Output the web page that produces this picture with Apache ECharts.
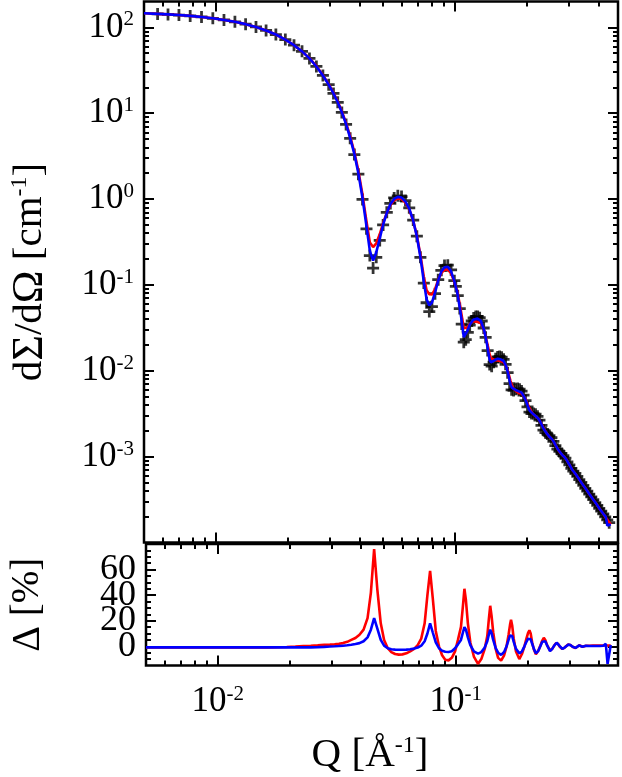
<!DOCTYPE html>
<html>
<head>
<meta charset="utf-8">
<script src="https://cdn.jsdelivr.net/npm/echarts@6/dist/echarts.min.js"></script>
<style>
  html, body { margin: 0; padding: 0; background: #fff; }
  #sans_charts { width: 622px; height: 777px; }
</style>
</head>
<body>
<div id="sans_charts"></div>
<script>
  // Q [1/A] of the two model curves and of the deviations
  let q = [
    0.0050, 0.0057, 0.0063, 0.0070, 0.0078, 0.0087, 0.0097, 0.0108, 0.0120, 0.0133,
    0.0147, 0.0162, 0.0178, 0.0195, 0.0212, 0.0229, 0.0246, 0.0263, 0.0280, 0.0296,
    0.0310, 0.0323, 0.0336, 0.0350, 0.0364, 0.0379, 0.0394, 0.0410, 0.0426, 0.0440,
    0.0454, 0.0468, 0.0484, 0.0500, 0.0518, 0.0536, 0.0556, 0.0576, 0.0597, 0.0620,
    0.0643, 0.0668, 0.0692, 0.0716, 0.0740, 0.0760, 0.0780, 0.0800, 0.0824, 0.0850,
    0.0876, 0.0903, 0.0932, 0.0962, 0.0993,
    0.1021, 0.1051, 0.1072, 0.1087, 0.1103, 0.1124, 0.1151, 0.1191, 0.1240, 0.1280,
    0.1323, 0.1356, 0.1378, 0.1395, 0.1413, 0.1436, 0.1471, 0.1506, 0.1550, 0.1596,
    0.1634, 0.1666, 0.1690, 0.1706, 0.1726, 0.1751, 0.1790, 0.1848, 0.1896, 0.1942,
    0.1980, 0.2012, 0.2038, 0.2063, 0.2093, 0.2128, 0.2169, 0.2221, 0.2265, 0.2308,
    0.2342, 0.2376, 0.2422, 0.2488, 0.2541, 0.2590, 0.2628, 0.2653, 0.2686, 0.2738,
    0.2802, 0.2865, 0.2920, 0.2963, 0.2991, 0.3029, 0.3093, 0.3184, 0.3299, 0.3405,
    0.3521, 0.3641, 0.3766, 0.3894, 0.4027, 0.4165, 0.4266, 0.4340, 0.4475
  ]
  // red model
  let fitRed = [
    146, 143.5, 141.5, 139, 136, 132, 127.5, 122, 116, 109,
    101, 92, 82.5, 72, 62, 52.5, 43.7, 35.3, 27.8, 21.8,
    17.26, 13.67, 10.46, 7.66, 5.36, 3.51, 2.13, 1.12, 0.549, 0.312,
    0.276, 0.305, 0.389, 0.525, 0.690, 0.850, 0.968, 1.019, 1.003, 0.907,
    0.758, 0.559, 0.374, 0.223, 0.124, 0.0868, 0.0779, 0.0773, 0.0885, 0.115,
    0.138, 0.150, 0.151, 0.137, 0.108,
    0.084, 0.0552, 0.0396, 0.0312, 0.0299, 0.0319, 0.0350, 0.0377, 0.0371, 0.0360,
    0.0294, 0.0221, 0.0181, 0.0155, 0.0140, 0.0133, 0.0133, 0.0132, 0.0130, 0.0126,
    0.0113, 0.0097, 0.00831, 0.00760, 0.00684, 0.00625, 0.00586, 0.00549, 0.00545, 0.0050,
    0.00456, 0.00409, 0.00377, 0.00352, 0.00328, 0.00309, 0.00293, 0.00280, 0.00259, 0.00234,
    0.00217, 0.00202, 0.00185, 0.00169, 0.00160, 0.00148, 0.00137, 0.00131, 0.00123, 0.00113,
    0.00105, 0.00099, 0.000925, 0.000862, 0.000824, 0.000778, 0.000698, 0.000632, 0.000549, 0.000479,
    0.000422, 0.000368, 0.000322, 0.000282, 0.000246, 0.000216, 0.000196, 0.000183, 0.000162
  ]
  // blue model
  let fitBlue = [
    146, 143.5, 141.5, 139, 136, 132, 127.5, 122, 116, 109,
    101, 92, 82.5, 72, 62, 52.5, 43.5, 35, 27.5, 21.5,
    17.0, 13.43, 10.25, 7.46, 5.16, 3.36, 2.00, 1.03, 0.482, 0.249,
    0.192, 0.239, 0.347, 0.503, 0.690, 0.870, 1.003, 1.061, 1.041, 0.935,
    0.772, 0.560, 0.366, 0.211, 0.109, 0.0682, 0.0578, 0.0622, 0.0814, 0.113,
    0.143, 0.161, 0.163, 0.144, 0.110,
    0.0812, 0.0504, 0.0333, 0.0247, 0.0249, 0.0289, 0.0343, 0.0394, 0.0405, 0.0382,
    0.0297, 0.0213, 0.0162, 0.0133, 0.0125, 0.0126, 0.0134, 0.0138, 0.0136, 0.0130,
    0.0113, 0.00935, 0.00770, 0.00690, 0.00637, 0.00611, 0.00598, 0.00576, 0.00557, 0.0050,
    0.00445, 0.00392, 0.00357, 0.00338, 0.00324, 0.00311, 0.00295, 0.00280, 0.00258, 0.00232,
    0.00213, 0.00200, 0.00185, 0.00169, 0.00160, 0.00148, 0.00137, 0.00131, 0.00123, 0.00114,
    0.00105, 0.00099, 0.000925, 0.000861, 0.000823, 0.000778, 0.000698, 0.000632, 0.000549, 0.000479,
    0.000422, 0.000368, 0.000322, 0.000282, 0.000246, 0.000216, 0.000199, 0.000157, 0.000163
  ]
  // deviation [%], lower panel
  let devRed = [
    -0.8, -0.8, -0.8, -0.8, -0.8, -0.8, -0.8, -0.8, -0.8, -0.8,
    -0.8, -0.8, -0.7, -0.5, -0.2, 0.2, 0.5, 0.8, 1.1, 1.3,
    1.5, 2, 2.5, 3.5, 5, 6.5, 9, 13, 22, 42,
    76, 45, 18, 5, -1.5, -4.5, -6, -6.5, -6.3, -5.5,
    -4, -2, 1, 6, 18, 40, 59, 38, 12, 0,
    -7, -10.5, -11, -9, -4,
    5, 15, 32, 45, 36, 18, 3, -8, -13.7, -10,
    -2, 8, 22, 31.7, 24, 11, -2, -9, -11.2, -7,
    0, 9, 17, 20.7, 16, 6, -4, -10, -6, 0,
    6, 10.5, 12.5, 10, 3, -2.5, -6.2, -3.5, 0.5, 4.5,
    6.7, 5, 0.5, -3.2, -2, 0.5, 2.3, 3, 2, -0.5,
    -2, -1, 0.5, 1.4, 1.7, 1, -0.3, -1.3, 0.8, -0.3,
    0.5, 0.5, 0.6, 0.6, 0.6, 0.6, 0.6, 0.6, 0.6
  ]
  let devBlue = [
    -0.8, -0.8, -0.8, -0.8, -0.8, -0.8, -0.8, -0.8, -0.8, -0.8,
    -0.8, -0.8, -0.8, -0.8, -0.8, -0.8, -0.8, -0.6, -0.4, -0.2,
    0, 0.2, 0.5, 0.8, 1.2, 1.8, 2.5, 4, 7, 13,
    22, 14, 5, 0.5, -1.5, -2.3, -2.6, -2.7, -2.7, -2.6,
    -2.3, -1.8, -1, 0.5, 4, 10, 18, 11, 3, -1.5,
    -3.5, -4.3, -4.4, -3.8, -1.5,
    1.5, 5, 11, 15, 13, 7, 1, -4, -5.7, -4.5,
    -1, 4, 9.5, 13, 10.5, 5, -1.5, -5, -6.7, -4.5,
    0, 5, 8.5, 9.5, 8, 3.5, -2, -5.5, -4, 0,
    3.5, 6, 6.7, 5.5, 2, -2, -5.5, -3.5, 0, 3.5,
    5, 4, 0.5, -3.7, -2, 0.5, 2, 2.8, 2, 0,
    -2, -1, 0.5, 1.3, 1.6, 1, -0.3, -1.2, 0.7, -0.3,
    0.4, 0.2, 0.3, 0.3, 0.3, 0.4, 2, -13.7, 1
  ]

  // measured points (black crosses): own Q grid, denser at high Q
  let qData = [
    0.0057, 0.0063, 0.0070, 0.0078, 0.0087, 0.0097, 0.0108, 0.0120, 0.0133, 0.0147,
    0.0162, 0.0178, 0.0195, 0.0212, 0.0229, 0.0246, 0.0263, 0.0280, 0.0296, 0.0310,
    0.0323, 0.0336, 0.0350, 0.0364, 0.0379, 0.0394, 0.0410, 0.0426, 0.0440, 0.0454,
    0.0468, 0.0484, 0.0500, 0.0518, 0.0536, 0.0556, 0.0576, 0.0597, 0.0620, 0.0643,
    0.0668, 0.0692, 0.0716, 0.0740, 0.0760, 0.0780, 0.0800, 0.0824, 0.0850, 0.0876,
    0.0903, 0.0932, 0.0962, 0.0993,
    0.1007, 0.1026, 0.1046, 0.1066, 0.1087, 0.1108, 0.1130, 0.1151, 0.1174, 0.1196,
    0.1220, 0.1243, 0.1267, 0.1292, 0.1317, 0.1342, 0.1368, 0.1395, 0.1422, 0.1449,
    0.1478, 0.1506, 0.1535, 0.1565, 0.1595, 0.1626, 0.1658, 0.1690, 0.1723, 0.1756,
    0.1790, 0.1825, 0.1860, 0.1896, 0.1933, 0.1970, 0.2008, 0.2047, 0.2087, 0.2127,
    0.2169, 0.2211, 0.2253, 0.2297, 0.2342, 0.2387, 0.2433, 0.2480, 0.2528, 0.2577,
    0.2627, 0.2678, 0.2730, 0.2783, 0.2837, 0.2892, 0.2948, 0.3005, 0.3063, 0.3122,
    0.3183, 0.3244, 0.3307, 0.3371, 0.3437, 0.3503, 0.3571, 0.3640, 0.3711, 0.3783,
    0.3856, 0.3931, 0.4007, 0.4084, 0.4164, 0.4244, 0.4327, 0.4410
  ]
  let dataI = [
    143.5, 141.5, 139, 136, 132, 127.5, 122, 116, 109, 101,
    92, 82.5, 72, 62, 52.5, 43.5, 35, 27.5, 21.5, 17.0,
    13.4, 10.2, 7.4, 5.1, 3.3, 1.95, 0.99, 0.45, 0.22, 0.157,
    0.21, 0.33, 0.50, 0.70, 0.89, 1.03, 1.09, 1.07, 0.96, 0.79,
    0.57, 0.37, 0.21, 0.105, 0.062, 0.049, 0.056, 0.079, 0.115, 0.148,
    0.168, 0.170, 0.150, 0.112,
    0.096, 0.075, 0.053, 0.035, 0.0215, 0.023, 0.028, 0.034, 0.038, 0.0413,
    0.0428, 0.0430, 0.0415, 0.038, 0.0315, 0.0245, 0.0172, 0.0118, 0.0113, 0.0126,
    0.0138, 0.0145, 0.0147, 0.0144, 0.0136, 0.0119, 0.0095, 0.0071, 0.0060, 0.0059,
    0.0061, 0.0062, 0.0061, 0.0058, 0.0052, 0.0045, 0.0038, 0.0033, 0.00318, 0.00317,
    0.00312, 0.00295, 0.00267, 0.00232, 0.00203, 0.00190, 0.00183, 0.00176, 0.00166, 0.00151,
    0.00134, 0.00122, 0.00115, 0.00109, 0.00103, 0.00096, 0.00087, 0.00080, 0.00073, 0.00068,
    0.00064, 0.00059, 0.00054, 0.000500, 0.000462, 0.000428, 0.000396, 0.000367, 0.000340, 0.000316,
    0.000292, 0.000270, 0.000250, 0.000232, 0.000215, 0.000199, 0.000184, 0.000170
  ]

  // ticks
  let xMajor = [0.01, 0.1]
  let xMinor = [0.006, 0.007, 0.008, 0.009, 0.02, 0.03, 0.04, 0.05, 0.06, 0.07, 0.08, 0.09, 0.2, 0.3, 0.4]
  let yMajor = [0.001, 0.01, 0.1, 1, 10, 100]
  let yDecades = [1e-4, 1e-3, 0.01, 0.1, 1, 10, 100]
  let yMinor = []
  yDecades.forEach(d => [2, 3, 4, 5, 6, 7, 8, 9].forEach(k => {
    let v = +(d * k).toPrecision(3)
    if (v < 200) yMinor.push(v)
  }))
  let dMajor = [0, 20, 40, 60]
  let dMinor = [-10, -5, 5, 10, 15, 25, 30, 35, 45, 50, 55, 65, 70, 75]
  // labels 0/40 and 20/60 sit on two axes so none gets dropped for overlapping
  let dLabelsA = [0, 40]
  let dLabelsB = [20, 60]

  let xRange = [0.005, 0.48]
  let yRange = [1e-4, 200]
  let dRange = [-15, 80]

  const FONT = '"Liberation Serif", "Times New Roman", serif'
  const PLUS = 'path://M3.85,0H6.15V10H3.85Z M0,3.85H10V6.15H0Z'
  let rich = {
    b: { fontSize: 35, fontFamily: FONT, color: '#000', lineHeight: 36 },
    s: { fontSize: 21, fontFamily: FONT, color: '#000', verticalAlign: 'top', lineHeight: 21 }
  }
  let nameRich = {
    t: { fontSize: 41, fontFamily: FONT, color: '#000', lineHeight: 44 },
    g: { fontSize: 44, fontFamily: FONT, color: '#000', lineHeight: 44 },
    s: { fontSize: 24, fontFamily: FONT, color: '#000', verticalAlign: 'top', lineHeight: 24 }
  }
  let powLabel = v => '{b|10}{s|' + Math.round(Math.log10(v)) + '}'

  let pairs = (xs, ys) => xs.map((x, i) => [x, ys[i]])

  function axis (type, grid, pos, range, ticks, len, more) {
    let a = {
      type: type,
      gridIndex: grid,
      position: pos,
      min: range[0],
      max: range[1],
      axisLine: { show: false, onZero: false },
      splitLine: { show: false },
      axisTick: {
        show: true,
        inside: true,
        length: len,
        customValues: ticks,
        lineStyle: { color: '#000', width: 2 }
      },
      axisLabel: { show: false }
    }
    return Object.assign(a, more || {})
  }

  function dLabels (values) {
    return {
      axisLabel: {
        show: true,
        customValues: values,
        hideOverlap: false,
        margin: 10,
        fontSize: 36,
        fontFamily: FONT,
        color: '#000'
      }
    }
  }

  let xAxes = []
  let yAxes = []
  ;[0, 1].forEach(g => {
    let xLab = g === 1 ? {
      name: '{t|Q [Å}{s|-1}{t|]}',
      nameLocation: 'middle',
      nameGap: 68,
      nameTextStyle: { padding: [0, 24, 0, 0], rich: nameRich },
      axisLabel: {
        show: true,
        customValues: xMajor,
        hideOverlap: false,
        margin: 18,
        formatter: powLabel,
        rich: rich
      }
    } : {}
    xAxes.push(axis('log', g, 'bottom', xRange, xMajor, 10, xLab))
    xAxes.push(axis('log', g, 'bottom', xRange, xMinor, 5))
    xAxes.push(axis('log', g, 'top', xRange, xMajor, 10))
    xAxes.push(axis('log', g, 'top', xRange, xMinor, 5))
  })

  yAxes.push(axis('log', 0, 'left', yRange, yMajor, 10, {
    name: '{t|d}{g|Σ}{t|/d}{g|Ω}{t| [cm}{s|-1}{t|]}',
    nameLocation: 'middle',
    nameGap: 92,
    nameTextStyle: { rich: nameRich },
    axisLabel: {
      show: true,
      customValues: yMajor,
      hideOverlap: false,
      margin: 10,
      formatter: powLabel,
      rich: rich
    }
  }))
  yAxes.push(axis('log', 0, 'left', yRange, yMinor, 5))
  yAxes.push(axis('log', 0, 'right', yRange, yMajor, 10))
  yAxes.push(axis('log', 0, 'right', yRange, yMinor, 5))

  yAxes.push(axis('value', 1, 'left', dRange, dMajor, 10, Object.assign({
    name: '{g|Δ}{t| [%]}',
    nameLocation: 'middle',
    nameGap: 97,
    nameTextStyle: {
      rich: {
        t: { fontSize: 39, fontFamily: FONT, color: '#000', lineHeight: 42 },
        g: { fontSize: 40, fontFamily: FONT, color: '#000', lineHeight: 42 }
      }
    }
  }, dLabels(dLabelsA))))
  yAxes.push(axis('value', 1, 'left', dRange, dMinor, 5, dLabels(dLabelsB)))
  yAxes.push(axis('value', 1, 'right', dRange, dMajor, 10))
  yAxes.push(axis('value', 1, 'right', dRange, dMinor, 5))

  let myChart = echarts.init(document.getElementById('sans_charts'))
  let option = {
    animation: false,
    backgroundColor: '#fff',
    grid: [
      { left: 142, right: 4, top: 1.5, height: 541, show: true, borderColor: '#000', borderWidth: 2.5 },
      { left: 142, right: 4, top: 544, height: 126, show: true, borderColor: '#000', borderWidth: 2.5 }
    ],
    xAxis: xAxes,
    yAxis: yAxes,
    series: [
      {
        name: 'data',
        type: 'scatter',
        xAxisIndex: 0,
        yAxisIndex: 0,
        data: pairs(qData, dataI),
        symbol: PLUS,
        symbolSize: 12,
        itemStyle: { color: '#000' },
        silent: true,
        z: 2
      },
      {
        name: 'red',
        type: 'line',
        xAxisIndex: 0,
        yAxisIndex: 0,
        data: pairs(q, fitRed),
        showSymbol: false,
        lineStyle: { color: '#ff0000', width: 2.6 },
        silent: true,
        z: 3
      },
      {
        name: 'blue',
        type: 'line',
        xAxisIndex: 0,
        yAxisIndex: 0,
        data: pairs(q, fitBlue),
        showSymbol: false,
        lineStyle: { color: '#0000ff', width: 2.6 },
        silent: true,
        z: 4
      },
      {
        name: 'red dev',
        type: 'line',
        xAxisIndex: 4,
        yAxisIndex: 4,
        data: pairs(q, devRed),
        showSymbol: false,
        lineStyle: { color: '#ff0000', width: 2.6 },
        silent: true,
        z: 3
      },
      {
        name: 'blue dev',
        type: 'line',
        xAxisIndex: 4,
        yAxisIndex: 4,
        data: pairs(q, devBlue),
        showSymbol: false,
        lineStyle: { color: '#0000ff', width: 2.6 },
        silent: true,
        z: 4
      }
    ]
  }
  myChart.setOption(option)
</script>
</body>
</html>
